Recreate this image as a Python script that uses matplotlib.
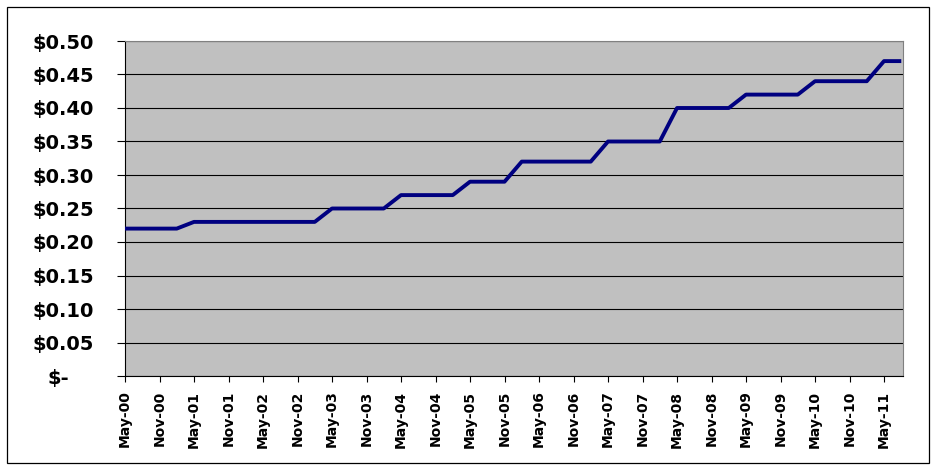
import matplotlib
matplotlib.use("Agg")
import matplotlib.pyplot as plt
import matplotlib.transforms as mtransforms
from matplotlib.patches import Rectangle
from matplotlib.ticker import FixedLocator, FuncFormatter
import pandas as pd

# Quarterly observations, May 2000 .. Aug 2011
quarters = pd.date_range("2000-05-01", periods=46, freq="3MS")
prices = [0.22, 0.22, 0.22, 0.22,
          0.23, 0.23, 0.23, 0.23, 0.23, 0.23, 0.23, 0.23,
          0.25, 0.25, 0.25, 0.25,
          0.27, 0.27, 0.27, 0.27,
          0.29, 0.29, 0.29,
          0.32, 0.32, 0.32, 0.32, 0.32,
          0.35, 0.35, 0.35, 0.35,
          0.40, 0.40, 0.40, 0.40,
          0.42, 0.42, 0.42, 0.42,
          0.44, 0.44, 0.44, 0.44,
          0.47, 0.47]
tick_labels = ["May-00", "Nov-00", "May-01", "Nov-01", "May-02", "Nov-02",
               "May-03", "Nov-03", "May-04", "Nov-04", "May-05", "Nov-05",
               "May-06", "Nov-06", "May-07", "Nov-07", "May-08", "Nov-08",
               "May-09", "Nov-09", "May-10", "Nov-10", "May-11"]
y_ticks = [0.0, 0.05, 0.10, 0.15, 0.20, 0.25, 0.30, 0.35, 0.40, 0.45, 0.50]

W, H = 937, 469
fig = plt.figure(figsize=(W / 100, H / 100), dpi=100)
fig.patch.set_facecolor("white")

ax = fig.add_axes([125 / W, 1 - 376 / H, (903 - 125) / W, (376 - 41) / H])
ax.set_facecolor("#c0c0c0")

x = list(range(len(prices)))
ax.plot(x, prices, color="#000080", lw=2.8, solid_joinstyle="round",
        solid_capstyle="butt", zorder=3)

ax.set_xlim(0, len(prices) - 1 + 0.1)
ax.set_ylim(0, 0.5)

ax.yaxis.set_major_locator(FixedLocator(y_ticks))
def fmt(v, pos):
    if abs(v) < 1e-9:
        return "$-"
    return "$%.2f" % v
ax.yaxis.set_major_formatter(FuncFormatter(fmt))
ax.grid(axis="y", color="black", lw=0.8, zorder=1)
ax.set_axisbelow(True)

ax.set_xticks(range(0, 2 * len(tick_labels), 2))
ax.set_xticklabels(tick_labels, rotation=90, ha="center", va="top")

font = "DejaVu Sans"
for lab in ax.get_yticklabels():
    lab.set_fontfamily(font)
    lab.set_fontweight("bold")
    lab.set_fontsize(14)
for lab in ax.get_xticklabels():
    lab.set_fontfamily(font)
    lab.set_fontweight("bold")
    lab.set_fontsize(10)

ax.tick_params(axis="y", direction="out", length=6, width=0.8, pad=16.5, colors="black")
ax.tick_params(axis="x", direction="out", length=4.5, width=0.8, pad=6, colors="black")

# shift the "$-" label left like accounting format
zero_lab = ax.get_yticklabels()[0]
offset = mtransforms.ScaledTranslation(-25 / 100, 0, fig.dpi_scale_trans)
zero_lab.set_transform(zero_lab.get_transform() + offset)

ax.spines["left"].set_color("black")
ax.spines["bottom"].set_color("black")
ax.spines["top"].set_color("#808080")
ax.spines["right"].set_color("#808080")
for s in ax.spines.values():
    s.set_linewidth(0.8)

# outer chart border
fig.patches.append(Rectangle((7 / W, 1 - 463 / H), (929 - 7) / W, (463 - 7) / H,
                             transform=fig.transFigure, fill=False,
                             edgecolor="black", lw=0.9))

fig.savefig("out.png", dpi=100)
